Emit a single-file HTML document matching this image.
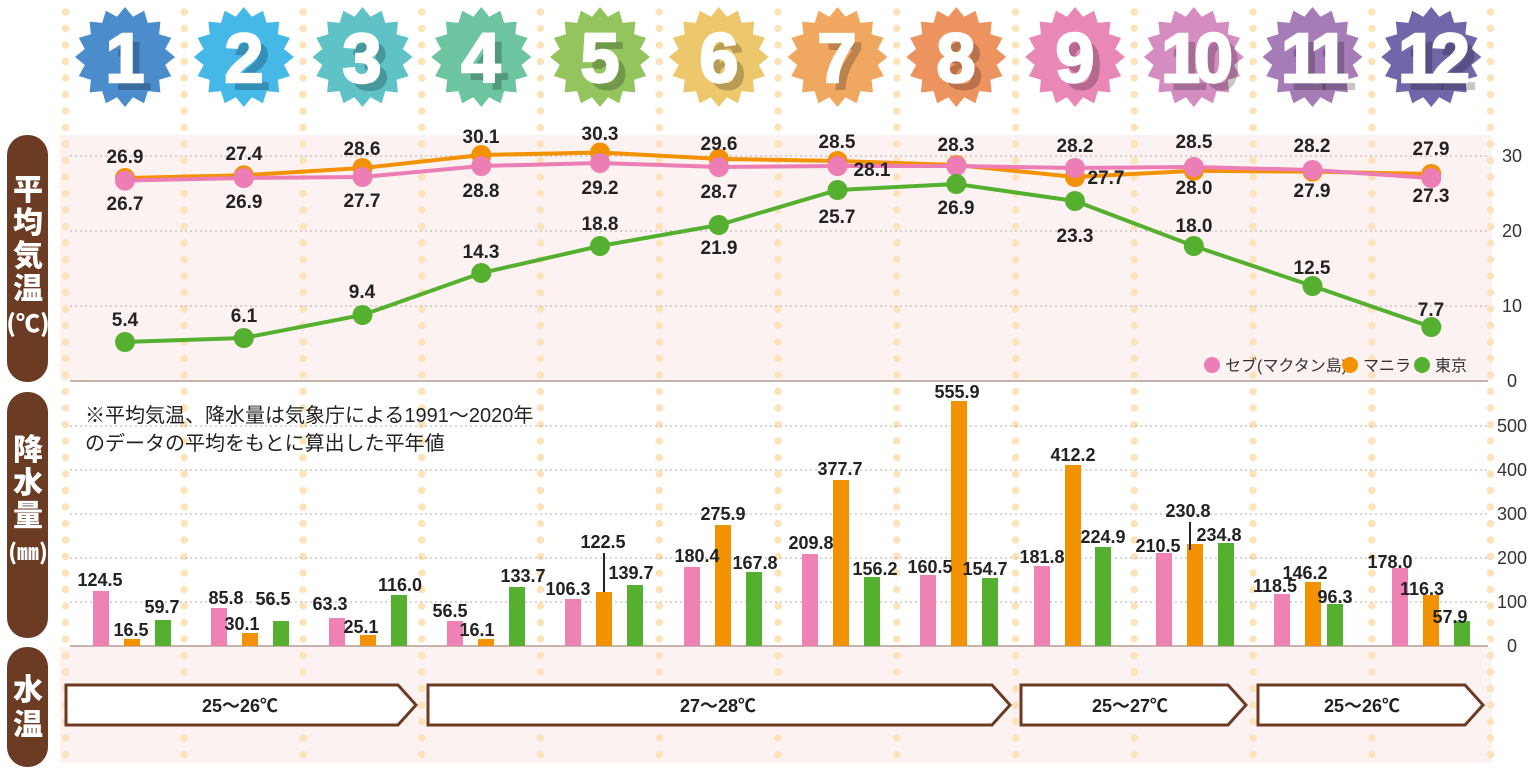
<!DOCTYPE html>
<html><head><meta charset="utf-8"><style>
html,body{margin:0;padding:0;background:#fff;}
svg{display:block;font-family:"Liberation Sans","Noto Sans CJK JP",sans-serif;}
.t{font-size:19px;font-weight:bold;fill:#222;text-anchor:middle;}
.r{font-size:18px;font-weight:bold;fill:#222;text-anchor:middle;}
.ax{font-size:18px;fill:#333;}
.num{font-size:70px;font-weight:bold;text-anchor:middle;font-family:"Liberation Sans",sans-serif;}
.vl{font-size:30px;font-weight:900;fill:#fff;text-anchor:middle;font-family:"Noto Sans CJK JP",sans-serif;}
</style></head><body>
<svg width="1536" height="782" viewBox="0 0 1536 782" xmlns="http://www.w3.org/2000/svg">
<defs>
<polygon id="star" points="0,-50 8,-40.2 19.1,-46.2 22.8,-34.1 35.4,-35.4 34.1,-22.8 46.2,-19.1 40.2,-8 50,0 40.2,8 46.2,19.1 34.1,22.8 35.4,35.4 22.8,34.1 19.1,46.2 8,40.2 0,50 -8,40.2 -19.1,46.2 -22.8,34.1 -35.4,35.4 -34.1,22.8 -46.2,19.1 -40.2,8 -50,0 -40.2,-8 -46.2,-19.1 -34.1,-22.8 -35.4,-35.4 -22.8,-34.1 -19.1,-46.2 -8,-40.2"/>
</defs>
<rect x="60" y="135" width="1432" height="246" fill="#fcf2f2"/>
<rect x="60" y="647" width="1432" height="116" fill="#fcf2f2"/>
<g stroke="#fde3b9" stroke-width="7.5" stroke-linecap="round" stroke-dasharray="0 16.5">
<line x1="65.5" y1="12" x2="65.5" y2="770"/><line x1="184.3" y1="12" x2="184.3" y2="770"/><line x1="303" y1="12" x2="303" y2="770"/><line x1="421.8" y1="12" x2="421.8" y2="770"/><line x1="540.5" y1="12" x2="540.5" y2="770"/><line x1="659.3" y1="12" x2="659.3" y2="770"/><line x1="778" y1="12" x2="778" y2="770"/><line x1="896.8" y1="12" x2="896.8" y2="770"/><line x1="1015.5" y1="12" x2="1015.5" y2="770"/><line x1="1134.3" y1="12" x2="1134.3" y2="770"/><line x1="1253" y1="12" x2="1253" y2="770"/><line x1="1371.8" y1="12" x2="1371.8" y2="770"/><line x1="1490.5" y1="12" x2="1490.5" y2="770"/>
</g>
<g stroke="#b9aaa8" stroke-width="1" stroke-dasharray="2 3">
<line x1="70" y1="156" x2="1488" y2="156"/><line x1="70" y1="231" x2="1488" y2="231"/><line x1="70" y1="306" x2="1488" y2="306"/>
<line x1="70" y1="426" x2="1488" y2="426"/><line x1="70" y1="470" x2="1488" y2="470"/><line x1="70" y1="514" x2="1488" y2="514"/><line x1="70" y1="558" x2="1488" y2="558"/><line x1="70" y1="602" x2="1488" y2="602"/>
</g>
<line x1="70" y1="381" x2="1488" y2="381" stroke="#c8b3ac" stroke-width="2"/>
<line x1="70" y1="646" x2="1488" y2="646" stroke="#c8b3ac" stroke-width="2"/>
<g class="ax">
<text x="1502" y="162">30</text><text x="1502" y="237">20</text><text x="1502" y="312">10</text><text x="1507" y="387">0</text>
<text x="1497" y="432">500</text><text x="1497" y="476">400</text><text x="1497" y="520">300</text><text x="1497" y="564">200</text><text x="1497" y="608">100</text><text x="1507" y="652">0</text>
</g>
<rect x="7" y="135" width="41" height="247" rx="20" fill="#6b3b24"/>
<rect x="7" y="392" width="41" height="246" rx="20" fill="#6b3b24"/>
<rect x="7" y="647" width="41" height="120" rx="20" fill="#6b3b24"/>
<g class="vl">
<text x="28" y="200">平</text><text x="28" y="233">均</text><text x="28" y="266">気</text><text x="28" y="299">温</text><text x="28" y="332" font-size="24">(℃)</text>
<text x="28" y="460">降</text><text x="28" y="493">水</text><text x="28" y="526">量</text><text x="28" y="560" font-size="22">(㎜)</text>
<text x="28" y="700">水</text><text x="28" y="735">温</text>
</g>
<g>
<use href="#star" x="125" y="57" fill="#4a8ccc"/><use href="#star" x="243.8" y="57" fill="#45b8e8"/><use href="#star" x="362.5" y="57" fill="#5ec2c6"/><use href="#star" x="481.3" y="57" fill="#6dc4a0"/><use href="#star" x="600" y="57" fill="#93c45e"/><use href="#star" x="718.8" y="57" fill="#ecc76c"/><use href="#star" x="837.5" y="57" fill="#f0a860"/><use href="#star" x="956.3" y="57" fill="#ed9360"/><use href="#star" x="1075" y="57" fill="#e987b7"/><use href="#star" x="1193.8" y="57" fill="#d58cc0"/><use href="#star" x="1312.5" y="57" fill="#a57cb6"/><use href="#star" x="1431.3" y="57" fill="#6f67a9"/>
</g>
<g class="num" fill="#000" fill-opacity="0.22">
<text x="133" y="90">1</text><text x="252" y="90">2</text><text x="370" y="90">3</text><text x="489" y="90">4</text><text x="608" y="90">5</text><text x="727" y="90">6</text><text x="845" y="90">7</text><text x="964" y="90">8</text><text x="1083" y="90">9</text><text x="1202" y="90" letter-spacing="-6">10</text><text x="1320" y="90" letter-spacing="-6">11</text><text x="1439" y="90" letter-spacing="-6">12</text>
</g>
<g class="num" fill="#fff" stroke="#fff" stroke-width="2.5">
<text x="125" y="82">1</text><text x="244" y="82">2</text><text x="362" y="82">3</text><text x="481" y="82">4</text><text x="600" y="82">5</text><text x="719" y="82">6</text><text x="837" y="82">7</text><text x="956" y="82">8</text><text x="1075" y="82">9</text><text x="1194" y="82" letter-spacing="-6">10</text><text x="1312" y="82" letter-spacing="-6">11</text><text x="1431" y="82" letter-spacing="-6">12</text>
</g>
<polyline fill="none" stroke="#f39200" stroke-width="4" points="125,178 243.8,175.3 362.5,168 481.3,155 600,152.5 718.8,158.9 837.5,161 956.3,165 1075,177 1193.8,170.8 1312.5,171.6 1431.3,174"/>
<polyline fill="none" stroke="#ec7eb5" stroke-width="4" points="125,180.6 243.8,178 362.5,177 481.3,166 600,163 718.8,167 837.5,166 956.3,166 1075,168 1193.8,167 1312.5,170 1431.3,178"/>
<polyline fill="none" stroke="#55b030" stroke-width="4" points="125,342 243.8,338 362.5,315 481.3,273 600,246 718.8,225 837.5,190 956.3,184 1075,201 1193.8,246 1312.5,286 1431.3,327"/>
<g fill="#f39200">
<circle cx="125" cy="178" r="10"/><circle cx="243.8" cy="175.3" r="10"/><circle cx="362.5" cy="168" r="10"/><circle cx="481.3" cy="155" r="10"/><circle cx="600" cy="152.5" r="10"/><circle cx="718.8" cy="158.9" r="10"/><circle cx="837.5" cy="161" r="10"/><circle cx="956.3" cy="165" r="10"/><circle cx="1075" cy="177" r="10"/><circle cx="1193.8" cy="170.8" r="10"/><circle cx="1312.5" cy="171.6" r="10"/><circle cx="1431.3" cy="174" r="10"/>
</g>
<g fill="#ec7eb5">
<circle cx="125" cy="180.6" r="10"/><circle cx="243.8" cy="178" r="10"/><circle cx="362.5" cy="177" r="10"/><circle cx="481.3" cy="166" r="10"/><circle cx="600" cy="163" r="10"/><circle cx="718.8" cy="167" r="10"/><circle cx="837.5" cy="166" r="10"/><circle cx="956.3" cy="166" r="10"/><circle cx="1075" cy="168" r="10"/><circle cx="1193.8" cy="167" r="10"/><circle cx="1312.5" cy="170" r="10"/><circle cx="1431.3" cy="178" r="10"/>
</g>
<g fill="#55b030">
<circle cx="125" cy="342" r="10"/><circle cx="243.8" cy="338" r="10"/><circle cx="362.5" cy="315" r="10"/><circle cx="481.3" cy="273" r="10"/><circle cx="600" cy="246" r="10"/><circle cx="718.8" cy="225" r="10"/><circle cx="837.5" cy="190" r="10"/><circle cx="956.3" cy="184" r="10"/><circle cx="1075" cy="201" r="10"/><circle cx="1193.8" cy="246" r="10"/><circle cx="1312.5" cy="286" r="10"/><circle cx="1431.3" cy="327" r="10"/>
</g>
<g class="t">
<text x="125" y="163">26.9</text><text x="125" y="210">26.7</text>
<text x="244" y="160">27.4</text><text x="244" y="208">26.9</text>
<text x="362" y="155">28.6</text><text x="362" y="207">27.7</text>
<text x="481" y="143">30.1</text><text x="481" y="197">28.8</text>
<text x="600" y="140">30.3</text><text x="600" y="194">29.2</text>
<text x="719" y="150">29.6</text><text x="719" y="198">28.7</text>
<text x="837" y="148">28.5</text><text x="872" y="176">28.1</text>
<text x="956" y="151">28.3</text>
<text x="1075" y="152">28.2</text><text x="1106" y="184">27.7</text>
<text x="1194" y="148">28.5</text><text x="1194" y="194">28.0</text>
<text x="1312" y="152">28.2</text><text x="1312" y="197">27.9</text>
<text x="1431" y="155">27.9</text><text x="1431" y="202">27.3</text>
<text x="125" y="326">5.4</text><text x="244" y="322">6.1</text><text x="362" y="298">9.4</text><text x="481" y="258">14.3</text><text x="600" y="230">18.8</text><text x="719" y="254">21.9</text><text x="837" y="223">25.7</text><text x="956" y="214">26.9</text><text x="1075" y="242">23.3</text><text x="1194" y="232">18.0</text><text x="1312" y="274">12.5</text><text x="1431" y="316">7.7</text>
</g>
<circle cx="1212" cy="365" r="8" fill="#ec7eb5"/><text x="1225" y="371" font-size="16" fill="#333">セブ(マクタン島)</text>
<circle cx="1350" cy="365" r="8" fill="#f39200"/><text x="1363" y="371" font-size="16" fill="#333">マニラ</text>
<circle cx="1422" cy="365" r="8" fill="#55b030"/><text x="1435" y="371" font-size="16" fill="#333">東京</text>
<text x="85" y="422" font-size="20" fill="#222">※平均気温、降水量は気象庁による1991〜2020年</text>
<text x="85" y="450" font-size="20" fill="#222">のデータの平均をもとに算出した平年値</text>
<g fill="#ee82b4">
<rect x="93" y="591" width="16" height="55"/><rect x="211" y="608" width="16" height="38"/><rect x="329" y="618" width="16" height="28"/><rect x="447" y="621" width="16" height="25"/><rect x="565" y="599" width="16" height="47"/><rect x="684" y="567" width="16" height="79"/><rect x="802" y="554" width="16" height="92"/><rect x="920" y="575" width="16" height="71"/><rect x="1034" y="566" width="16" height="80"/><rect x="1156" y="553" width="16" height="93"/><rect x="1274" y="594" width="16" height="52"/><rect x="1392" y="568" width="16" height="78"/>
</g>
<g fill="#f39200">
<rect x="124" y="639" width="16" height="7"/><rect x="242" y="633" width="16" height="13"/><rect x="360" y="635" width="16" height="11"/><rect x="478" y="639" width="16" height="7"/><rect x="596" y="592" width="16" height="54"/><rect x="715" y="525" width="16" height="121"/><rect x="833" y="480" width="16" height="166"/><rect x="951" y="401" width="16" height="245"/><rect x="1065" y="465" width="16" height="181"/><rect x="1187" y="544" width="16" height="102"/><rect x="1305" y="582" width="16" height="64"/><rect x="1423" y="595" width="16" height="51"/>
</g>
<g fill="#55b030">
<rect x="155" y="620" width="16" height="26"/><rect x="273" y="621" width="16" height="25"/><rect x="391" y="595" width="16" height="51"/><rect x="509" y="587" width="16" height="59"/><rect x="627" y="585" width="16" height="61"/><rect x="746" y="572" width="16" height="74"/><rect x="864" y="577" width="16" height="69"/><rect x="982" y="578" width="16" height="68"/><rect x="1095" y="547" width="16" height="99"/><rect x="1218" y="543" width="16" height="103"/><rect x="1327" y="604" width="16" height="42"/><rect x="1454" y="621" width="16" height="25"/>
</g>
<line x1="604" y1="553" x2="604" y2="592" stroke="#222" stroke-width="2"/>
<line x1="1190" y1="522" x2="1190" y2="550" stroke="#222" stroke-width="2"/>
<g class="r">
<text x="100" y="586">124.5</text><text x="131" y="636">16.5</text><text x="162" y="613">59.7</text>
<text x="226" y="604">85.8</text><text x="242" y="630">30.1</text><text x="273" y="605">56.5</text>
<text x="330" y="610">63.3</text><text x="361" y="633">25.1</text><text x="400" y="591">116.0</text>
<text x="450" y="617">56.5</text><text x="477" y="636">16.1</text><text x="523" y="582">133.7</text>
<text x="568" y="595">106.3</text><text x="603" y="548">122.5</text><text x="631" y="579">139.7</text>
<text x="697" y="562">180.4</text><text x="723" y="520">275.9</text><text x="755" y="569">167.8</text>
<text x="811" y="549">209.8</text><text x="840" y="475">377.7</text><text x="875" y="575">156.2</text>
<text x="930" y="573">160.5</text><text x="957" y="398">555.9</text><text x="985" y="575">154.7</text>
<text x="1042" y="563">181.8</text><text x="1073" y="461">412.2</text><text x="1103" y="543">224.9</text>
<text x="1158" y="552">210.5</text><text x="1188" y="517">230.8</text><text x="1219" y="541">234.8</text>
<text x="1275" y="592">118.5</text><text x="1305" y="579">146.2</text><text x="1335" y="603">96.3</text>
<text x="1390" y="568">178.0</text><text x="1422" y="595">116.3</text><text x="1450" y="623">57.9</text>
</g>
<g fill="#fff" stroke="#6b3b24" stroke-width="3">
<polygon points="66,685 398,685 416,705 398,725 66,725"/>
<polygon points="428,685 992,685 1010,705 992,725 428,725"/>
<polygon points="1021,685 1228,685 1246,705 1228,725 1021,725"/>
<polygon points="1258,685 1465,685 1483,705 1465,725 1258,725"/>
</g>
<g font-size="18" font-weight="bold" fill="#222" text-anchor="middle">
<text x="240" y="712">25〜26℃</text><text x="718" y="712">27〜28℃</text><text x="1130" y="712">25〜27℃</text><text x="1362" y="712">25〜26℃</text>
</g>
</svg>
</body></html>
